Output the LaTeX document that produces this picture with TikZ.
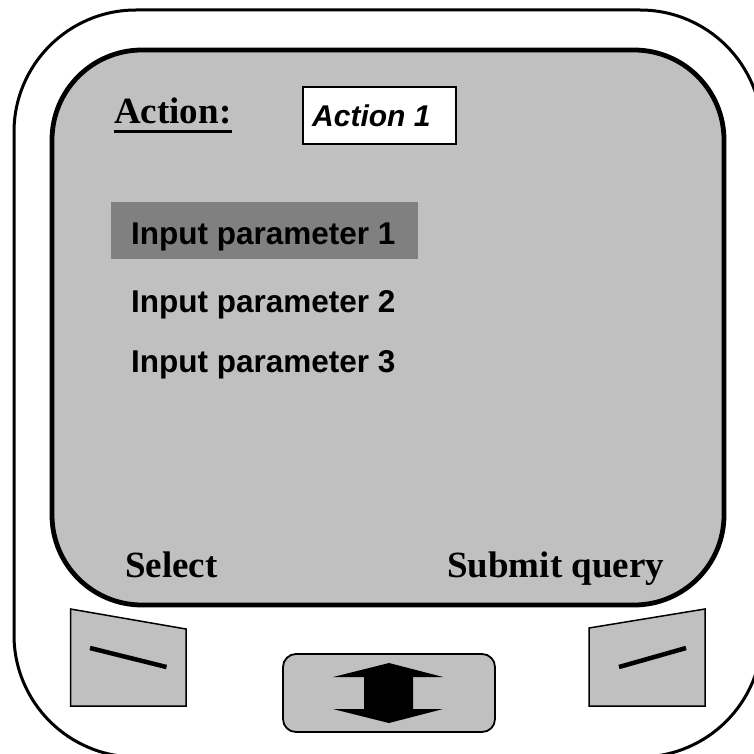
\documentclass[tikz,border=0pt]{standalone}
\usepackage{fontspec}
\setmainfont{Liberation Serif}
\setsansfont{Liberation Sans}
\definecolor{panel}{HTML}{C0C0C0}
\definecolor{hilite}{HTML}{808080}
\tikzset{
  serifbig/.style={inner sep=0pt, anchor=base west, font=\fontsize{37}{44}\selectfont\bfseries},
  sansitem/.style={inner sep=0pt, anchor=base west, font=\fontsize{31.5}{38}\selectfont\sffamily\bfseries},
  softkey/.style={draw=black, fill=panel, line width=1.5pt, line join=miter},
  keymark/.style={line width=4.5pt}
}
\begin{document}
\begin{tikzpicture}[x=1pt, y=-1pt]
  \useasboundingbox (0,0) rectangle (754,754);
  \clip (0,0) rectangle (754,754);
  \fill[white] (0,0) rectangle (754,754);

  % device body
  \draw[line width=3pt, rounded corners=122pt] (14,10) rectangle (762,757);

  % screen
  \draw[line width=4.8pt, fill=panel, rounded corners=90pt] (52,50) rectangle (724,605);

  % action line
  \node[serifbig] (act) at (114,123.5) {Action:};
  \draw[line width=3.5pt] ([yshift=-8pt]act.base west) -- ([yshift=-8pt]act.base east);
  \node[draw=black, fill=white, line width=1.5pt, minimum width=153pt, minimum height=57pt, inner sep=0pt] (actbox) at (379.5,115.5) {};
  \node[inner sep=0pt, anchor=base west, font=\fontsize{30}{36}\selectfont\sffamily\bfseries\itshape] (actval) at (312,126.5) {Action 1};

  % parameter list
  \fill[hilite] (110.7,202) rectangle (418,259);
  \node[sansitem] (p1) at (131,244) {Input parameter 1};
  \node[sansitem] (p2) at (131,312.5) {Input parameter 2};
  \node[sansitem] (p3) at (131,372.5) {Input parameter 3};

  % soft key labels
  \node[serifbig] (sel) at (125,577.5) {Select};
  \node[serifbig] (sub) at (447,577.5) {Submit query};

  % left soft key
  \draw[softkey] (70.5,609) -- (186,629) -- (186,706) -- (70.5,706) -- cycle;
  \draw[keymark] (90,648) -- (166.5,667);

  % right soft key
  \draw[softkey] (589,628) -- (705,609) -- (705,706) -- (589,706) -- cycle;
  \draw[keymark] (619,667) -- (686,648);

  % navigation key
  \draw[draw=black, fill=panel, line width=1.8pt, rounded corners=13pt] (283,654) rectangle (495,732);
  \fill[black] (389,663) -- (443,677) -- (413,677) -- (413,709) -- (443,709)
    -- (389,723) -- (333,709) -- (364,709) -- (364,677) -- (333,677) -- cycle;
\end{tikzpicture}
\end{document}
